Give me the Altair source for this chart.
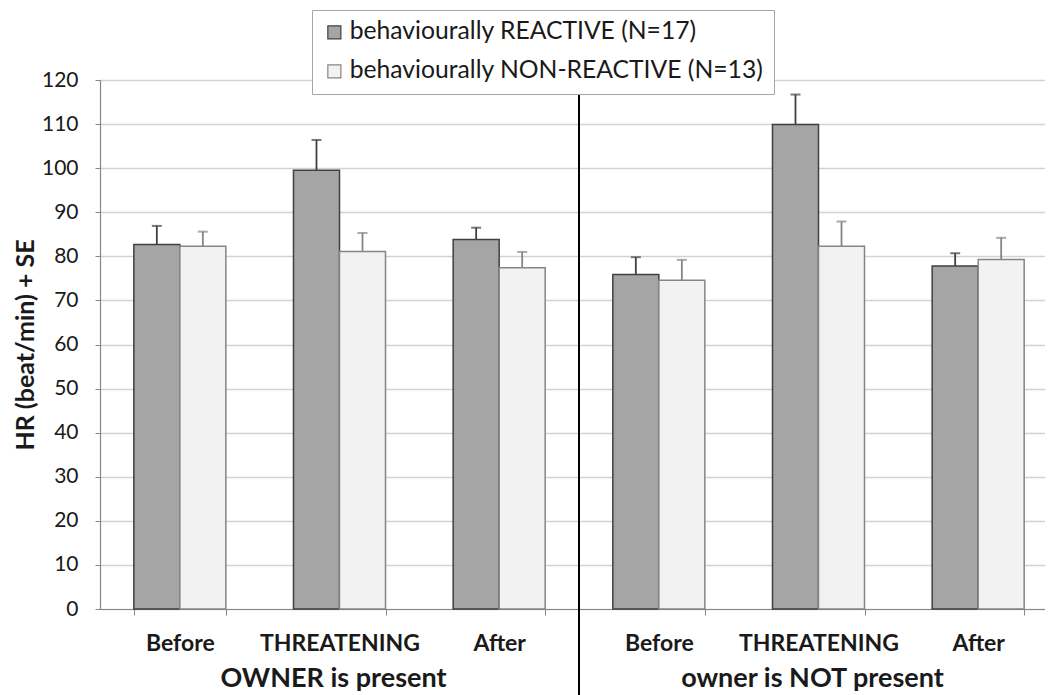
import altair as alt
import pandas as pd

contexts = ["OWNER is present", "owner is NOT present"]
conditions = ["Before", "THREATENING", "After"]
groups = ["behaviourally REACTIVE (N=17)", "behaviourally NON-REACTIVE (N=13)"]

# means per context x condition, per group
reactive_mean = [82.7, 99.5, 83.8, 75.9, 109.9, 77.8]
reactive_se = [4.2, 6.9, 2.7, 3.9, 6.8, 2.9]
nonreactive_mean = [82.3, 81.1, 77.4, 74.6, 82.3, 79.3]
nonreactive_se = [3.3, 4.2, 3.6, 4.6, 5.6, 4.9]

slots = [f"{c} / {k}" for c in contexts for k in conditions]

rows = []
for i, s in enumerate(slots):
    rows.append({"slot": s, "group": groups[0], "mean": reactive_mean[i],
                 "upper": reactive_mean[i] + reactive_se[i]})
    rows.append({"slot": s, "group": groups[1], "mean": nonreactive_mean[i],
                 "upper": nonreactive_mean[i] + nonreactive_se[i]})
df = pd.DataFrame(rows)

FONT = "Lato"
RANGE_W = 958
P_INNER = 0.4236
STEP = RANGE_W / len(slots)
x_scale = alt.Scale(domain=slots, range=[0, RANGE_W], paddingInner=P_INNER, paddingOuter=P_INNER / 2)
fill_scale = alt.Scale(domain=groups, range=["#a5a5a5", "#f2f2f2"])
stroke_scale = alt.Scale(domain=groups, range=["#404040", "#858585"])

legend = alt.Legend(
    title=None, orient="none", legendX=212, legendY=-70,
    direction="vertical", symbolType="square", symbolSize=170,
    symbolStrokeWidth=1.2, labelFont=FONT, labelFontSize=24.7, labelColor="#1a1a1a",
    labelLimit=0,
    strokeColor="#a6a6a6", fillColor="white", padding=10, rowPadding=13,
    labelOffset=3,
)

x_enc = alt.X(
    "slot:N", scale=x_scale, title=None,
    axis=alt.Axis(
        labelExpr="split(datum.label, ' / ')[1]", labelAngle=0,
        labelFont=FONT, labelFontSize=23, labelFontWeight="bold", labelColor="#1a1a1a",
        labelPadding=17, tickBand="extent", tickSize=6, tickColor="#868686",
        domainColor="#868686", domainWidth=1.2, grid=False,
    ),
)
y_scale = alt.Scale(domain=[0, 120], nice=False)
y_enc = alt.Y(
    "mean:Q", scale=y_scale, title="HR (beat/min) + SE",
    axis=alt.Axis(
        values=list(range(0, 121, 10)), labelFont=FONT, labelFontSize=21, labelColor="#1a1a1a",
        labelPadding=17, tickSize=5, tickColor="#868686", domainColor="#868686",
        domainWidth=1.2, gridColor="#d2d2d2", gridWidth=1.6,
        titleFont=FONT, titleFontSize=25, titleFontWeight="bold", titleColor="#1a1a1a",
        titlePadding=3,
    ),
)
xoff = alt.XOffset("group:N", sort=groups, scale=alt.Scale(domain=groups, paddingInner=0, paddingOuter=0))

base = alt.Chart(df)

bars = base.mark_bar(strokeWidth=1.5).encode(
    x=x_enc, xOffset=xoff, y=y_enc,
    fill=alt.Fill("group:N", scale=fill_scale, legend=legend, sort=groups),
    stroke=alt.Stroke("group:N", scale=stroke_scale, legend=legend, sort=groups),
)

err = base.mark_rule(strokeWidth=1.8).encode(
    x=x_enc, xOffset=xoff, y="mean:Q", y2="upper:Q",
    stroke=alt.Stroke("group:N", scale=stroke_scale, legend=legend, sort=groups),
)

caps = base.mark_tick(size=10, thickness=2).encode(
    x=x_enc, xOffset=xoff, y=alt.Y("upper:Q", scale=y_scale),
    color=alt.Color("group:N", scale=stroke_scale, legend=None),
)

div_df = pd.DataFrame({"slot": [slots[2]]})
divider = alt.Chart(div_df).mark_rule(
    color="black", strokeWidth=2, xOffset=STEP * P_INNER / 2
).encode(
    x=alt.X("slot:N", scale=x_scale, bandPosition=1),
    y=alt.value(10), y2=alt.value(615),
)

grp_df = pd.DataFrame({"slot": [f"{c} / {conditions[1]}" for c in contexts], "label": contexts})
grp_text = alt.Chart(grp_df).mark_text(
    font=FONT, fontSize=27, fontWeight="bold", color="#1a1a1a", baseline="alphabetic", dx=-6
).encode(
    x=alt.X("slot:N", scale=x_scale),
    y=alt.value(607),
    text="label:N",
)

chart = alt.layer(bars, err, caps, divider, grp_text).properties(
    width=945, height=529,
    autosize=alt.AutoSizeParams(type="none"),
    padding={"left": 92, "top": 72, "right": 0, "bottom": 86},
).configure_view(stroke=None)

chart.save("out.html", embed_options={"renderer": "svg", "actions": False})
